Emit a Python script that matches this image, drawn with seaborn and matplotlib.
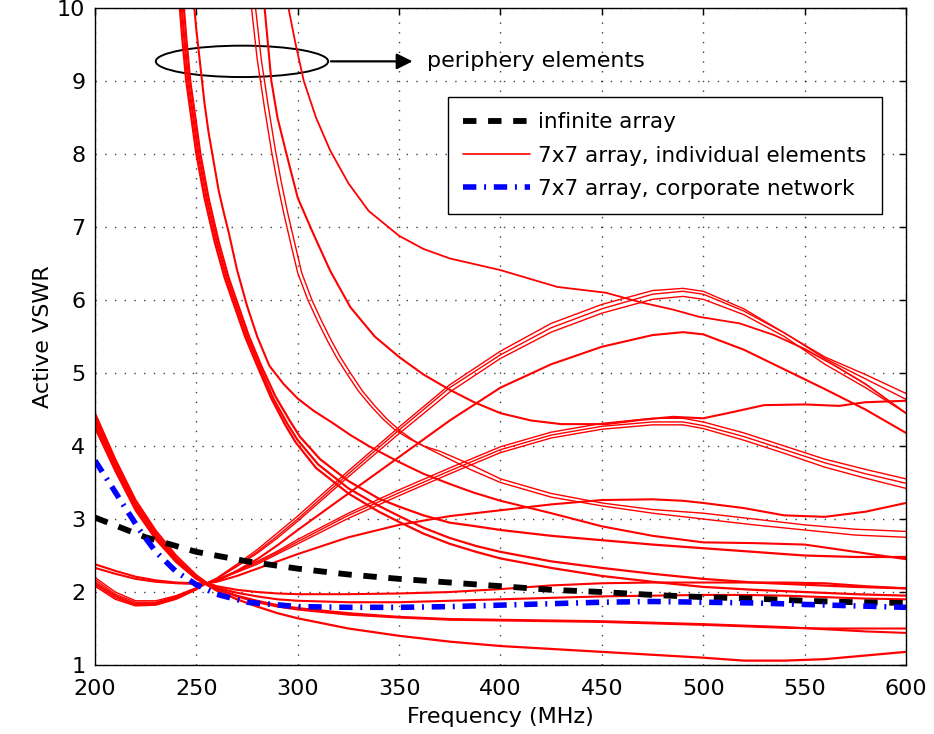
import numpy as np
import pandas as pd
import matplotlib
matplotlib.use("Agg")
import matplotlib.pyplot as plt
from matplotlib.patches import Ellipse
from matplotlib.lines import Line2D
import seaborn as sns

# ---------------- data ----------------
# lower group: start near 4.4 at 200 MHz, fall through the crossing point
f_low = [200, 210, 220, 230, 240, 250, 255, 260, 270, 280, 290, 300, 325, 350, 375, 400, 425, 450, 475, 500, 520, 540, 560, 580, 600]
L1 = [4.40, 3.78, 3.22, 2.80, 2.46, 2.20, 2.10, 2.02, 1.90, 1.80, 1.71, 1.64, 1.50, 1.40, 1.32, 1.26, 1.22, 1.18, 1.14, 1.10, 1.06, 1.06, 1.08, 1.13, 1.18]
L2 = [4.35, 3.74, 3.18, 2.76, 2.44, 2.19, 2.11, 2.04, 1.94, 1.86, 1.80, 1.76, 1.69, 1.65, 1.62, 1.61, 1.60, 1.59, 1.57, 1.55, 1.53, 1.51, 1.50, 1.50, 1.50]
L3 = [4.30, 3.70, 3.15, 2.74, 2.42, 2.18, 2.11, 2.05, 1.95, 1.88, 1.82, 1.78, 1.71, 1.66, 1.63, 1.62, 1.61, 1.60, 1.58, 1.56, 1.54, 1.52, 1.49, 1.46, 1.44]
L4 = [4.25, 3.66, 3.12, 2.72, 2.41, 2.18, 2.12, 2.06, 1.99, 1.94, 1.90, 1.88, 1.86, 1.86, 1.88, 1.90, 1.92, 1.94, 1.95, 1.96, 1.96, 1.95, 1.93, 1.91, 1.90]
L5 = [4.45, 3.82, 3.26, 2.84, 2.50, 2.23, 2.13, 2.08, 2.03, 2.00, 1.98, 1.97, 1.97, 1.98, 2.00, 2.04, 2.09, 2.12, 2.13, 2.13, 2.13, 2.13, 2.12, 2.08, 2.05]

# rising group: start near 2 at 200 MHz, rise after the crossing point
f_rise = [200, 210, 220, 230, 240, 250, 255, 260, 270, 280, 290, 300, 325, 350, 375, 400, 425, 450, 475, 490, 500, 520, 540, 560, 580, 600]
A1 = [2.20, 2.00, 1.88, 1.88, 1.95, 2.06, 2.12, 2.18, 2.36, 2.55, 2.77, 3.00, 3.62, 4.22, 4.80, 5.25, 5.62, 5.88, 6.08, 6.12, 6.08, 5.85, 5.55, 5.22, 4.98, 4.72]
A2 = [2.17, 1.97, 1.86, 1.86, 1.94, 2.05, 2.12, 2.19, 2.38, 2.58, 2.81, 3.04, 3.66, 4.26, 4.84, 5.30, 5.68, 5.94, 6.13, 6.16, 6.12, 5.88, 5.55, 5.20, 4.92, 4.64]
A3 = [2.14, 1.95, 1.84, 1.85, 1.93, 2.05, 2.12, 2.18, 2.35, 2.53, 2.74, 2.97, 3.58, 4.17, 4.74, 5.20, 5.56, 5.82, 6.01, 6.05, 6.01, 5.80, 5.50, 5.12, 4.80, 4.45]
B = [2.38, 2.29, 2.21, 2.16, 2.13, 2.12, 2.12, 2.15, 2.29, 2.45, 2.64, 2.85, 3.35, 3.85, 4.35, 4.80, 5.12, 5.36, 5.52, 5.56, 5.53, 5.32, 5.05, 4.78, 4.50, 4.18]
C1 = [2.12, 1.94, 1.83, 1.84, 1.92, 2.04, 2.12, 2.17, 2.29, 2.42, 2.56, 2.72, 3.08, 3.40, 3.70, 3.99, 4.19, 4.31, 4.38, 4.38, 4.33, 4.18, 4.00, 3.82, 3.68, 3.55]
C2 = [2.10, 1.92, 1.82, 1.83, 1.91, 2.04, 2.12, 2.16, 2.28, 2.40, 2.54, 2.69, 3.05, 3.36, 3.66, 3.95, 4.15, 4.27, 4.33, 4.33, 4.28, 4.13, 3.95, 3.77, 3.62, 3.49]
C3 = [2.08, 1.90, 1.81, 1.82, 1.90, 2.03, 2.12, 2.16, 2.27, 2.38, 2.52, 2.66, 3.01, 3.32, 3.62, 3.91, 4.11, 4.23, 4.29, 4.29, 4.24, 4.08, 3.90, 3.71, 3.56, 3.42]
R3 = [2.33, 2.25, 2.18, 2.14, 2.12, 2.11, 2.12, 2.14, 2.22, 2.32, 2.42, 2.52, 2.75, 2.92, 3.04, 3.12, 3.20, 3.26, 3.27, 3.25, 3.22, 3.15, 3.05, 3.03, 3.10, 3.22]

# periphery elements: steep curves coming down from the top
f_T1a = [242, 244, 246, 248.5, 251, 255, 260, 265, 270, 275, 281, 288, 295, 300, 310, 325, 340, 350, 362, 375, 388, 400, 425, 450, 475, 500, 525, 550, 575, 600]
T1a = [10.3, 9.6, 9.0, 8.5, 8.0, 7.4, 6.8, 6.3, 5.9, 5.5, 5.1, 4.65, 4.3, 4.08, 3.75, 3.42, 3.18, 3.04, 2.88, 2.74, 2.63, 2.55, 2.42, 2.33, 2.25, 2.18, 2.13, 2.10, 2.07, 2.05]
f_T1b = [243, 245, 247, 249.5, 252, 256, 261, 266, 271, 276, 282, 289, 296, 301, 311, 325, 340, 350, 362, 375, 388, 400, 425, 450, 475, 500, 525, 550, 575, 600]
T1b = [10.3, 9.6, 9.0, 8.5, 8.0, 7.4, 6.8, 6.3, 5.9, 5.5, 5.1, 4.68, 4.35, 4.13, 3.82, 3.52, 3.28, 3.17, 3.05, 2.95, 2.90, 2.85, 2.77, 2.71, 2.65, 2.60, 2.55, 2.50, 2.48, 2.48]
f_T1c = [241, 243, 245, 247.5, 250, 254, 259, 264, 269, 274, 280, 287, 294, 299, 309, 325, 340, 350, 362, 375, 388, 400, 425, 450, 475, 500, 525, 550, 575, 600]
T1c = [10.3, 9.6, 9.0, 8.5, 8.0, 7.4, 6.8, 6.3, 5.9, 5.5, 5.1, 4.65, 4.28, 4.05, 3.70, 3.35, 3.10, 2.96, 2.80, 2.66, 2.55, 2.46, 2.33, 2.22, 2.14, 2.07, 2.03, 2.00, 1.97, 1.95]
f_X1 = [248, 250, 252, 254, 256, 258.5, 261, 263.5, 266, 270, 275, 280, 286, 293, 300, 308, 317, 326, 335, 350, 362, 375, 387, 400, 425, 450, 475, 500, 525, 550, 575, 600]
X1 = [10.3, 9.7, 9.2, 8.7, 8.3, 7.9, 7.5, 7.2, 6.92, 6.42, 5.92, 5.5, 5.1, 4.85, 4.65, 4.48, 4.32, 4.15, 4.0, 3.78, 3.62, 3.48, 3.36, 3.25, 3.08, 2.90, 2.77, 2.68, 2.67, 2.65, 2.55, 2.45]
f_Tp1 = [276, 278, 280, 283.5, 287, 290, 293, 296.5, 300, 305, 310, 314.5, 319, 324, 330, 336, 342, 348, 355, 362, 370, 385, 400, 425, 450, 475, 500, 525, 550, 575, 600]
Tp1 = [10.3, 9.8, 9.3, 8.65, 8.05, 7.6, 7.2, 6.78, 6.37, 6.0, 5.7, 5.45, 5.22, 5.0, 4.75, 4.55, 4.37, 4.22, 4.1, 4.0, 3.93, 3.75, 3.55, 3.35, 3.22, 3.13, 3.08, 3.00, 2.92, 2.86, 2.83]
f_Tp2 = [278, 280, 282, 285.5, 289, 292, 295, 298.5, 302, 307, 312, 316.5, 321, 326, 332, 338, 344, 350, 357, 364, 372, 385, 400, 425, 450, 475, 500, 525, 550, 575, 600]
Tp2 = [10.3, 9.8, 9.3, 8.65, 8.05, 7.6, 7.2, 6.78, 6.37, 6.0, 5.7, 5.45, 5.22, 5.0, 4.75, 4.55, 4.37, 4.22, 4.08, 3.97, 3.86, 3.68, 3.50, 3.30, 3.18, 3.08, 3.00, 2.92, 2.85, 2.78, 2.75]
f_K = [283, 285, 287, 290, 294, 300, 307.5, 316, 326, 338, 350, 362, 375, 387, 400, 415, 430, 452, 470, 485, 500, 512, 530, 550, 567, 580, 600]
K = [10.2, 9.6, 9.0, 8.5, 8.05, 7.4, 6.92, 6.4, 5.9, 5.5, 5.22, 4.98, 4.77, 4.6, 4.45, 4.35, 4.30, 4.30, 4.36, 4.40, 4.38, 4.45, 4.56, 4.57, 4.55, 4.60, 4.62]
f_S = [294, 299, 303, 309, 316, 325, 335, 350, 362, 375, 400, 428, 452, 469, 485, 498, 518, 535, 550, 565, 580, 600]
S = [10.2, 9.5, 9.0, 8.5, 8.05, 7.6, 7.22, 6.88, 6.7, 6.57, 6.41, 6.18, 6.10, 5.97, 5.87, 5.77, 5.68, 5.52, 5.33, 5.10, 4.85, 4.45]

# infinite array and corporate network
f_inf = [200, 225, 250, 275, 300, 325, 350, 375, 400, 425, 450, 475, 500, 525, 550, 575, 600]
vswr_inf = [3.02, 2.75, 2.55, 2.42, 2.32, 2.24, 2.18, 2.13, 2.08, 2.03, 2.00, 1.96, 1.93, 1.91, 1.88, 1.86, 1.85]
f_corp = [200, 207, 215, 222, 230, 240, 250, 260, 275, 300, 325, 350, 375, 400, 425, 450, 475, 500, 525, 550, 575, 600]
vswr_corp = [3.80, 3.50, 3.15, 2.85, 2.55, 2.28, 2.10, 1.97, 1.86, 1.80, 1.79, 1.79, 1.80, 1.82, 1.84, 1.86, 1.87, 1.86, 1.85, 1.83, 1.81, 1.79]

labels = ["infinite array", "7x7 array, individual elements", "7x7 array, corporate network"]
x_ticks = [200, 250, 300, 350, 400, 450, 500, 550, 600]
y_ticks = [1, 2, 3, 4, 5, 6, 7, 8, 9, 10]

# ---------------- drawing ----------------
sns.set_style("white")
plt.rcParams["font.family"] = ["DejaVu Sans"]
plt.rcParams["text.color"] = "black"
plt.rcParams["axes.labelcolor"] = "black"

fig = plt.figure(figsize=(9.34, 7.34), dpi=100)
ax = fig.add_axes([0.1017, 0.094, 0.8683, 0.895])

red_curves = [
    (f_low, L1, 1.6), (f_low, L2, 1.5), (f_low, L3, 1.5), (f_low, L4, 1.5), (f_low, L5, 1.5),
    (f_rise, A1, 1.0), (f_rise, A2, 1.0), (f_rise, A3, 1.0), (f_rise, B, 1.5),
    (f_rise, C1, 1.0), (f_rise, C2, 1.0), (f_rise, C3, 1.0), (f_rise, R3, 1.5),
    (f_T1a, T1a, 1.6), (f_T1b, T1b, 1.6), (f_T1c, T1c, 1.6), (f_X1, X1, 1.5),
    (f_Tp1, Tp1, 1.0), (f_Tp2, Tp2, 1.0), (f_K, K, 1.5), (f_S, S, 1.3),
]
red = "#ff0000"
for fx, vy, lw in red_curves:
    sns.lineplot(x=fx, y=vy, ax=ax, color=red, lw=lw, sort=False, estimator=None)

dash_inf = (0, (2.3, 2.0))
dash_corp = (0, (2.4, 1.4, 0.35, 1.4))
sns.lineplot(x=f_inf, y=vswr_inf, ax=ax, color="black", lw=4.2, sort=False, estimator=None)
ax.lines[-1].set_linestyle(dash_inf)
sns.lineplot(x=f_corp, y=vswr_corp, ax=ax, color="#0000ff", lw=4.0, sort=False, estimator=None)
ax.lines[-1].set_linestyle(dash_corp)

ax.set_xlim(200, 600)
ax.set_ylim(1, 10)
ax.set_xticks(x_ticks)
ax.set_yticks(y_ticks)
ax.set_xticklabels([str(v) for v in x_ticks])
ax.set_yticklabels([str(v) for v in y_ticks])
ax.tick_params(direction="in", top=True, right=True, length=5, width=1, labelsize=16,
               colors="black", labelcolor="black")
ax.tick_params(axis="x", pad=10)
ax.tick_params(axis="y", pad=7)
ax.grid(True, linestyle=(0, (1, 6)), color="black", lw=1.0, alpha=0.75)
for sp in ax.spines.values():
    sp.set_color("black")
    sp.set_linewidth(1.0)
ax.set_xlabel("Frequency (MHz)", fontsize=16, labelpad=6, color="black")
ax.set_ylabel("Active VSWR", fontsize=16, labelpad=3, color="black")

# legend
h_inf = Line2D([], [], color="black", lw=4.2, linestyle=dash_inf)
h_red = Line2D([], [], color=red, lw=1.2)
h_corp = Line2D([], [], color="#0000ff", lw=4.0, linestyle=dash_corp)
leg = ax.legend([h_inf, h_red, h_corp], labels, loc="upper right",
                bbox_to_anchor=(0.970, 0.8645), fontsize=15.5, handlelength=3.1,
                handletextpad=0.4, borderpad=0.7, labelspacing=0.62,
                borderaxespad=0, frameon=True, fancybox=False)
leg.get_frame().set_edgecolor("black")
leg.get_frame().set_linewidth(1.0)
leg.get_frame().set_alpha(1.0)
for t in leg.get_texts():
    t.set_color("black")

# periphery annotation
ell = Ellipse((272.5, 9.27), width=85.0, height=0.43, fill=False, edgecolor="black", lw=1.4)
ax.add_patch(ell)
ax.annotate("", xy=(358, 9.27), xytext=(315, 9.27),
            arrowprops=dict(arrowstyle="-|>", color="black", lw=1.6, mutation_scale=24))
ax.text(364, 9.27, "periphery elements", fontsize=16, va="center", ha="left", color="black")

fig.savefig("out.png", dpi=100)
